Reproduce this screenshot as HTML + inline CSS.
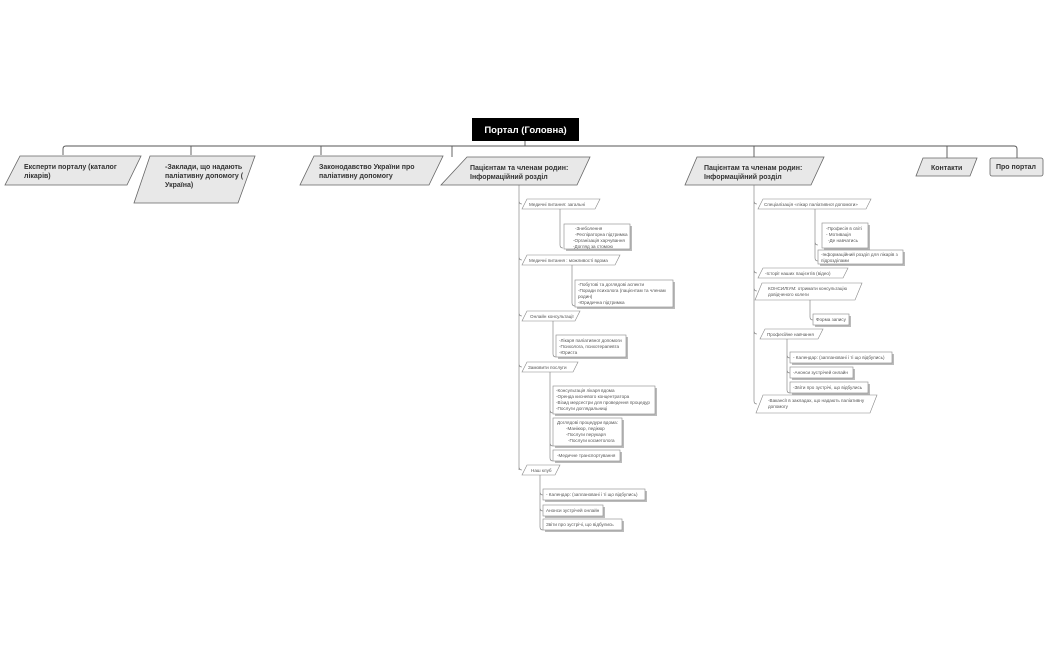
<!DOCTYPE html>
<html><head><meta charset="utf-8"><style>
html,body{margin:0;padding:0;background:#fff;width:1050px;height:650px;overflow:hidden}
svg{display:block}
text{font-family:"Liberation Sans","DejaVu Sans",sans-serif}
.b{font-size:7px;font-weight:bold;fill:#333}
.s{font-size:4.6px;fill:#555}
.p{fill:#e8e8e8;stroke:#666;stroke-width:0.8}
.sp{fill:#fff;stroke:#888;stroke-width:0.6}
.r{fill:#fff;stroke:#888;stroke-width:0.6}
.sh{fill:#bbb}
.l{fill:none;stroke:#555;stroke-width:0.9}
.t{fill:none;stroke:#777;stroke-width:0.6}
</style></head><body>
<svg width="1050" height="650" viewBox="0 0 1050 650">
<!-- root -->
<rect x="472" y="118" width="107" height="23" fill="#000"/>
<text x="525.5" y="133" text-anchor="middle" font-size="9.5" font-weight="bold" fill="#fff" font-family="Liberation Sans">Портал (Головна)</text>
<path class="l" d="M525 141V146M66 146H1014M63 155V149Q63 146 66 146M191 146V155M321 146V155M452 146V157M754 146V157M947 146V158M1014 146Q1017 146 1017 149V158"/>
<!-- top nodes -->
<polygon class="p" points="20,156 141,156 127,185 5,185"/>
<text class="b" x="24" y="169">Експерти порталу (каталог</text><text class="b" x="24" y="178">лікарів)</text>
<polygon class="p" points="150,156 255,156 238,203 134,203"/>
<text class="b" x="165" y="169">-Заклади, що надають</text><text class="b" x="165" y="178">паліативну допомогу (</text><text class="b" x="165" y="187">Україна)</text>
<polygon class="p" points="314,156 443,156 429,185 300,185"/>
<text class="b" x="319" y="169">Законодавство України про</text><text class="b" x="319" y="178">паліативну допомогу</text>
<polygon class="p" points="467,157 590,157 577,185 441,185"/>
<text class="b" x="470" y="170">Пацієнтам та членам родин:</text><text class="b" x="470" y="179">Інформаційний розділ</text>
<polygon class="p" points="697,157 824,157 811,185 685,185"/>
<text class="b" x="704" y="170">Пацієнтам та членам родин:</text><text class="b" x="704" y="179">Інформаційний розділ</text>
<polygon class="p" points="923,158 977,158 970,176 916,176"/>
<text class="b" x="931" y="170">Контакти</text>
<rect class="p" x="990" y="158" width="53" height="18" rx="2"/>
<text class="b" x="996" y="169">Про портал</text>

<!-- col4 tree -->
<path class="t" d="M519 185V470M519 201Q519 204 522 204M519 257Q519 260 522 260M519 313Q519 316 522 316M519 364Q519 367 522 367M519 467Q519 470 522 470"/>
<polygon class="sp" points="527,199 600,199 595,209 522,209"/><text class="s" x="529" y="206">Медичні питання: загальні</text>
<path class="t" d="M560 209V245Q560 248 563 248"/>
<rect class="sh" x="566" y="226" width="66" height="25"/><rect class="r" x="564" y="224" width="66" height="25"/>
<text class="s" x="575" y="230">-Знеболення</text><text class="s" x="575" y="236">-Респіраторна підтримка</text><text class="s" x="573" y="242">-Організація харчування</text><text class="s" x="573" y="248">-Догляд за стомою</text>
<polygon class="sp" points="527,255 620,255 615,265 522,265"/><text class="s" x="529" y="262">Медичні питання : можливості вдома</text>
<path class="t" d="M572 265V303Q572 306 575 306"/>
<rect class="sh" x="577" y="282" width="98" height="27"/><rect class="r" x="575" y="280" width="98" height="27"/>
<text class="s" x="578" y="286">-Побутові та доглядові аспекти</text><text class="s" x="578" y="292">-Поради психолога (пацієнтам та членам</text><text class="s" x="578" y="298">родин)</text><text class="s" x="578" y="304">-Юридична підтримка</text>
<polygon class="sp" points="527,311 580,311 575,321 522,321"/><text class="s" x="530" y="318">Онлайн консультації</text>
<path class="t" d="M553 321V354Q553 357 556 357"/>
<rect class="sh" x="558" y="337" width="70" height="22"/><rect class="r" x="556" y="335" width="70" height="22"/>
<text class="s" x="559" y="342">-Лікаря паліативної допомоги</text><text class="s" x="559" y="348">-Психолога, психотерапевта</text><text class="s" x="559" y="354">-Юриста</text>
<polygon class="sp" points="527,362 578,362 573,372 522,372"/><text class="s" x="528" y="369">Замовити послуги</text>
<path class="t" d="M550 372V458Q550 461 553 461M550 410Q550 413 553 413M550 443Q550 446 553 446"/>
<rect class="sh" x="555" y="388" width="102" height="28"/><rect class="r" x="553" y="386" width="102" height="28"/>
<text class="s" x="556" y="392">-Консультація лікаря вдома</text><text class="s" x="556" y="398">-Оренда кисневого концентратора</text><text class="s" x="556" y="404">-Візид медсестри для проведення процедур</text><text class="s" x="556" y="410">-Послуги доглядальниці</text>
<rect class="sh" x="555" y="420" width="69" height="28"/><rect class="r" x="553" y="418" width="69" height="28"/>
<text class="s" x="557" y="424">Доглядові процедури вдома:</text><text class="s" x="566" y="430">-Манікюр, педікюр</text><text class="s" x="566" y="436">-Послуги перукаря</text><text class="s" x="568" y="442">-Послуги косметолога</text>
<rect class="sh" x="555" y="452" width="67" height="11"/><rect class="r" x="553" y="450" width="67" height="11"/>
<text class="s" x="557" y="457">-Медичне транспортування</text>
<polygon class="sp" points="527,465 560,465 555,475 522,475"/><text class="s" x="531" y="472">Наш клуб</text>
<path class="t" d="M540 475V527Q540 530 543 530M540 492Q540 495 543 495M540 508Q540 511 543 511"/>
<rect class="sh" x="545" y="491" width="102" height="11"/><rect class="r" x="543" y="489" width="102" height="11"/><text class="s" x="546" y="496">- Календар:  (заплановані і ті що відбулись)</text>
<rect class="sh" x="545" y="507" width="60" height="11"/><rect class="r" x="543" y="505" width="60" height="11"/><text class="s" x="546" y="512">Анонси зустрічей онлайн</text>
<rect class="sh" x="545" y="521" width="79" height="11"/><rect class="r" x="543" y="519" width="79" height="11"/><text class="s" x="546" y="526">Звіти про зустрічі, що відбулись</text>

<!-- col5 tree -->
<path class="t" d="M754 185V401Q754 404 757 404M754 201Q754 204 757 204M754 270Q754 273 757 273M754 288Q754 291 757 291M754 331Q754 334 757 334"/>
<polygon class="sp" points="763,199 871,199 866,209 758,209"/><text class="s" x="764" y="206">Спеціалізація «лікар паліативної допомоги»</text>
<path class="t" d="M815 209V258Q815 261 818 261M815 242Q815 245 818 245"/>
<rect class="sh" x="824" y="225" width="46" height="25"/><rect class="r" x="822" y="223" width="46" height="25"/>
<text class="s" x="826" y="230">-Професія в світі</text><text class="s" x="826" y="236">- Мотивація</text><text class="s" x="828" y="242">-Де навчатись</text>
<rect class="sh" x="820" y="252" width="85" height="14"/><rect class="r" x="818" y="250" width="85" height="14"/>
<text class="s" x="821" y="256">-Інформаційний розділ для лікарів з</text><text class="s" x="821" y="262">підрозділами</text>
<polygon class="sp" points="763,268 848,268 843,278 758,278"/><text class="s" x="765" y="275">-Історії наших пацієнтів (відео)</text>
<polygon class="sp" points="762,283 862,283 855,300 755,300"/><text class="s" x="768" y="290">КОНСИЛІУМ: отримати консультацію</text><text class="s" x="768" y="296">довідченого колеги</text>
<path class="t" d="M810 300V317Q810 320 813 320"/>
<rect class="sh" x="815" y="316" width="36" height="11"/><rect class="r" x="813" y="314" width="36" height="11"/><text class="s" x="816" y="321">Форма запису</text>
<polygon class="sp" points="765,329 823,329 818,339 760,339"/><text class="s" x="767" y="336">Професійне навчання</text>
<path class="t" d="M787 339V390Q787 393 790 393M787 355Q787 358 790 358M787 370Q787 373 790 373"/>
<rect class="sh" x="792" y="354" width="102" height="11"/><rect class="r" x="790" y="352" width="102" height="11"/><text class="s" x="793" y="359">- Календар:  (заплановані і ті що відбулись)</text>
<rect class="sh" x="792" y="369" width="63" height="11"/><rect class="r" x="790" y="367" width="63" height="11"/><text class="s" x="793" y="374">-Анонси зустрічей онлайн</text>
<rect class="sh" x="792" y="384" width="78" height="11"/><rect class="r" x="790" y="382" width="78" height="11"/><text class="s" x="793" y="389">-Звіти про зустрічі, що відбулись</text>
<polygon class="sp" points="763,395 877,395 870,413 756,413"/><text class="s" x="768" y="402">-Вакансії в закладах, що надають паліативну</text><text class="s" x="768" y="408">допомогу</text>
</svg>
</body></html>
